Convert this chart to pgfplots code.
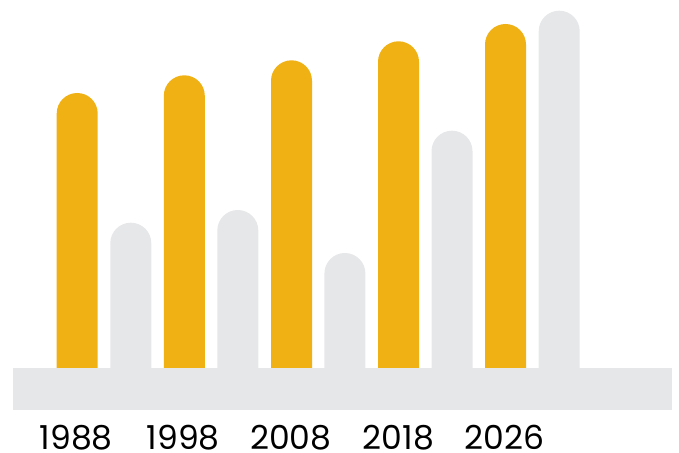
\documentclass[border=0pt]{standalone}
\usepackage{pgfplots}
\pgfplotsset{compat=1.18}
\usepackage{fontspec}
\setmainfont{Poppins}
\definecolor{gold}{RGB}{240,177,21}
\definecolor{lgray}{RGB}{230,231,233}
\begin{document}
\begin{tikzpicture}
\begin{axis}[
  width=679bp, height=453bp, scale only axis,
  xmin=0, xmax=679, ymin=-43, ymax=410,
  hide axis,
  clip=false,
]
\path (rel axis cs:0,0) rectangle (rel axis cs:1,1);
% gold bars
\addplot[ybar, bar width=41bp, bar shift=0pt, fill=gold, draw=none, rounded corners=20.5bp]
  coordinates {(77.2,317) (184.3,334.7) (291.5,349.7) (398.5,368.7) (505.5,386)};
% gray bars
\addplot[ybar, bar width=41bp, bar shift=0pt, fill=lgray, draw=none, rounded corners=20.5bp]
  coordinates {(130.8,187.3) (237.8,200) (344.9,157) (452,279.3) (559.2,399.3)};
% baseline band
\addplot[fill=lgray, draw=none] coordinates {(13,0) (672,0) (672,42) (13,42)} -- cycle;
\foreach \x/\l in {76.3/1988, 183.3/1998, 290.8/2008, 398.3/2018, 504.7/2026}{
  \edef\tmp{\noexpand\node[anchor=base, font=\noexpand\fontsize{33bp}{36bp}\noexpand\selectfont, text=black, inner sep=0pt] at (axis cs:\x,-39.3) {\l};}
  \tmp
}
\end{axis}
\end{tikzpicture}
\end{document}
